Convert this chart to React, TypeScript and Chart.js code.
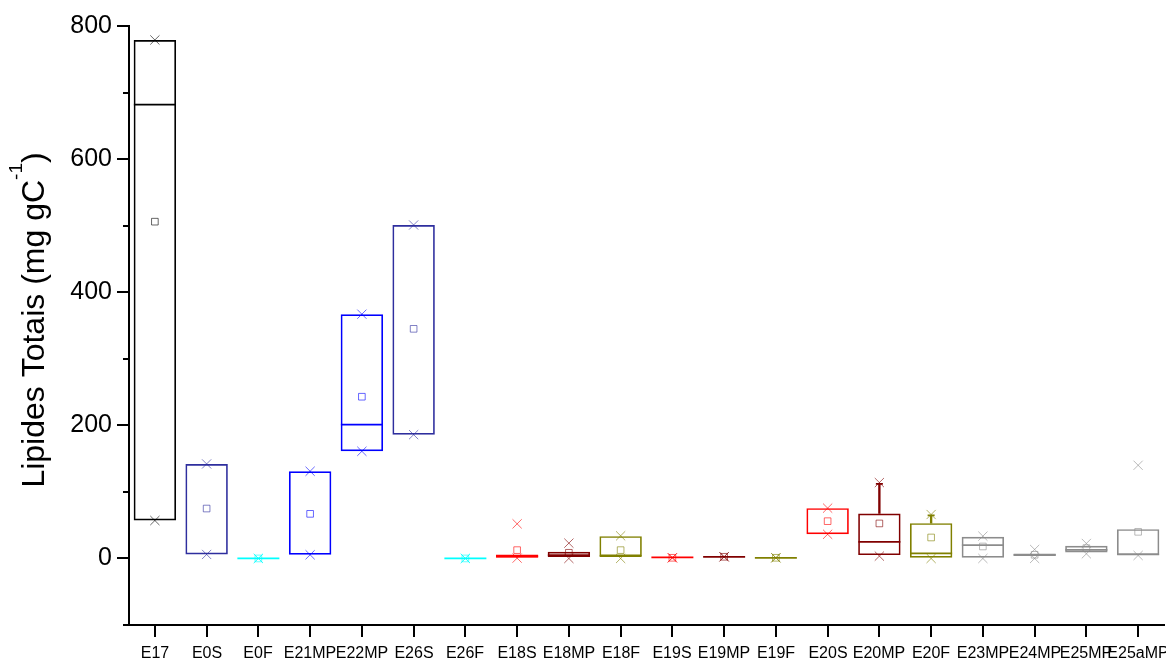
import React, { useEffect, useRef } from "react";
import { Chart, registerables } from "chart.js";

Chart.register(...registerables);

const categories = ["E17", "E0S", "E0F", "E21MP", "E22MP", "E26S", "E26F", "E18S", "E18MP", "E18F", "E19S", "E19MP", "E19F", "E20S", "E20MP", "E20F", "E23MP", "E24MP", "E25MP", "E25aMP"];
const q1 = [57, 6, 0, 5.5, 161, 186, 0, 1, 2, 3.5, 1.5, 2.5, 1, 36.5, 5, 1, 1, 3.5, 9, 5];
const q3 = [779, 142, 0, 131, 367, 501, 0, 6, 10, 33.5, 1.5, 2.5, 1, 75.6, 67.6, 53, 32.6, 7.5, 19, 44];
const medians = [682, null, 0, null, 201, null, 0, 3, 5, 3.5, 1.5, 2.5, 1, null, 25, 7.5, 20, 5.5, 13, 6];
const means = [506, 75, 0, 67, 243, 345, 0, 12.5, 8.5, 12.5, 1, 2.5, 1, 56, 52.6, 31.5, 18, 5.5, 15.5, 40];
const maxMarks = [779, 142, 0, 131, 367, 501, 0, 52, 23, 34, 1, 2.5, 1, 75.6, 114, 66, 33.5, 13.5, 22.5, 140];
const minMarks = [57, 6, 0, 5.5, 161, 186, 0, 0.5, 0, 0, 1, 2.5, 1, 36.3, 3.5, 0, 0, 0, 7, 4.5];
const whiskerTop = [null, null, null, null, null, null, null, null, null, null, null, null, null, null, 112, 64.6, null, null, null, null];
const yTickValues = [-100, 0, 100, 200, 300, 400, 500, 600, 700, 800];

const colors = ["#000000", "#2e2e9e", "#00ffff", "#0000ff", "#0000ff", "#2e2e9e", "#00ffff", "#ff0000", "#800000", "#808000", "#ff0000", "#800000", "#808000", "#ff0000", "#800000", "#808000", "#8c8c8c", "#8c8c8c", "#8c8c8c", "#8c8c8c"];
const markerColors = colors.map((c) => {
  const r = parseInt(c.slice(1, 3), 16), g = parseInt(c.slice(3, 5), 16), b = parseInt(c.slice(5, 7), 16);
  return `rgba(${r},${g},${b},0.6)`;
});

const FONT = "'Liberation Sans', Arial, sans-serif";

const decorPlugin = {
  id: "decor",
  afterDraw(chart: any) {
    const ctx = chart.ctx;
    const ys = chart.scales.y;
    const xs = chart.scales.x;
    const { left, bottom } = chart.chartArea;
    ctx.save();
    ctx.strokeStyle = "#000";
    ctx.lineWidth = 2;
    yTickValues.forEach((v) => {
      const py = Math.round(ys.getPixelForValue(v));
      const len = v % 200 === 0 ? 12 : 6;
      ctx.beginPath();
      ctx.moveTo(left - len, py);
      ctx.lineTo(left, py);
      ctx.stroke();
    });
    ctx.fillStyle = "#000";
    ctx.font = `16px ${FONT}`;
    ctx.textAlign = "center";
    ctx.textBaseline = "alphabetic";
    categories.forEach((label, i) => {
      const px = Math.round(xs.getPixelForValue(i));
      ctx.beginPath();
      ctx.moveTo(px, bottom);
      ctx.lineTo(px, bottom + 12);
      ctx.stroke();
      ctx.fillText(label, px, bottom + 33);
    });
    // axis title with superscript
    ctx.translate(44, 320);
    ctx.rotate(-Math.PI / 2);
    ctx.textAlign = "left";
    const main = "Lipides Totais (mg gC";
    const sup = "-1";
    const end = ")";
    ctx.font = `32px ${FONT}`;
    const w1 = ctx.measureText(main).width;
    const w3 = ctx.measureText(end).width;
    ctx.font = `19px ${FONT}`;
    const w2 = ctx.measureText(sup).width;
    const total = w1 + w2 + w3;
    let x0 = -total / 2;
    ctx.font = `32px ${FONT}`;
    ctx.fillText(main, x0, 0);
    x0 += w1;
    ctx.font = `19px ${FONT}`;
    ctx.fillText(sup, x0, -22);
    x0 += w2;
    ctx.font = `32px ${FONT}`;
    ctx.fillText(end, x0, 0);
    ctx.restore();
  },
};

export default function App() {
  const ref = useRef<HTMLCanvasElement | null>(null);
  useEffect(() => {
    if (!ref.current) return;
    const chart = new Chart(ref.current, {
      type: "bar",
      data: {
        labels: categories,
        datasets: [
          {
            type: "bar",
            label: "box",
            data: categories.map((_, i) => (q1[i] !== q3[i] ? [q1[i], q3[i]] : null)) as any,
            backgroundColor: "rgba(255,255,255,0)",
            borderColor: colors,
            borderWidth: 1.7,
            borderSkipped: false,
            barPercentage: 0.82,
            categoryPercentage: 1,
            grouped: false,
            order: 5,
          } as any,
          {
            type: "bar",
            label: "whisker",
            data: categories.map((_, i) => (whiskerTop[i] == null ? null : [q3[i], whiskerTop[i]])) as any,
            backgroundColor: colors,
            borderWidth: 0,
            barThickness: 1.7,
            grouped: false,
            order: 6,
          } as any,
          {
            type: "line",
            label: "median",
            data: medians,
            showLine: false,
            pointStyle: "line",
            pointRadius: 21,
            pointBorderColor: colors,
            pointBorderWidth: 1.7,
            order: 4,
          } as any,
          {
            type: "line",
            label: "cap",
            data: whiskerTop,
            showLine: false,
            pointStyle: "line",
            pointRadius: 3.5,
            pointBorderColor: colors,
            pointBorderWidth: 1.7,
            order: 3,
          } as any,
          {
            type: "line",
            label: "mean",
            data: means,
            showLine: false,
            pointStyle: "rect",
            pointRadius: 4.7,
            pointBackgroundColor: "rgba(255,255,255,0)",
            pointBorderColor: markerColors,
            pointBorderWidth: 1,
            order: 2,
          } as any,
          {
            type: "line",
            label: "max",
            data: maxMarks,
            showLine: false,
            pointStyle: "crossRot",
            pointRadius: 6.5,
            pointBorderColor: markerColors,
            pointBorderWidth: 1,
            order: 1,
          } as any,
          {
            type: "line",
            label: "min",
            data: minMarks,
            showLine: false,
            pointStyle: "crossRot",
            pointRadius: 6.5,
            pointBorderColor: markerColors,
            pointBorderWidth: 1,
            order: 1,
          } as any,
        ],
      },
      options: {
        animation: false,
        responsive: false,
        maintainAspectRatio: false,
        layout: { autoPadding: false, padding: { top: 26, right: 2, left: 0, bottom: 0 } },
        plugins: { legend: { display: false }, tooltip: { enabled: false }, title: { display: false } },
        events: [],
        scales: {
          x: {
            type: "category",
            offset: true,
            grid: { display: false, drawTicks: false },
            border: { display: true, color: "#000", width: 2 },
            ticks: { display: false },
            afterFit: (s: any) => {
              s.height = 34;
            },
          },
          y: {
            type: "linear",
            min: -100,
            max: 800,
            grid: { display: false, drawTicks: false },
            border: { display: true, color: "#000", width: 2 },
            afterBuildTicks: (s: any) => {
              s.ticks = yTickValues.map((v) => ({ value: v }));
            },
            ticks: {
              color: "#000",
              font: { family: FONT, size: 25 },
              padding: 17,
              callback: (v: any) => (Number(v) >= 0 && Number(v) % 200 === 0 ? String(v) : ""),
            },
            afterFit: (s: any) => {
              s.width = 129;
              s.paddingTop = 0;
              s.paddingBottom = 0;
            },
          },
        },
      },
      plugins: [decorPlugin],
    });
    return () => chart.destroy();
  }, []);
  return (
    <div style={{ position: "absolute", left: 0, top: 0, width: 1166, height: 659, background: "#fff" }}>
      <canvas ref={ref} width={1166} height={659} style={{ display: "block" }} />
    </div>
  );
}
